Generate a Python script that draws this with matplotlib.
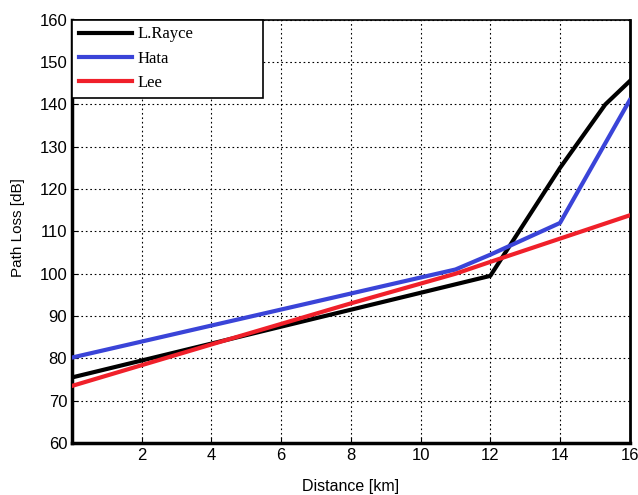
import matplotlib
matplotlib.use("Agg")
import matplotlib.pyplot as plt

x_rayce = [0, 4, 8, 11, 12, 14, 15.3, 16]
y_rayce = [75.5, 83.5, 91.5, 97.5, 99.5, 125, 140, 145.5]
x_hata = [0, 11, 12, 14, 16]
y_hata = [80.2, 101, 104.5, 112, 141]
x_lee = [0, 4, 8, 11, 12, 14, 16]
y_lee = [73.5, 83.3, 93, 100, 102.8, 108.3, 113.8]
xticks = [2, 4, 6, 8, 10, 12, 14, 16]
yticks = [60, 70, 80, 90, 100, 110, 120, 130, 140, 150, 160]

fig = plt.figure(figsize=(6.38, 4.95), dpi=100)
ax = fig.add_axes([0.113, 0.105, 0.874, 0.855])
ax.plot(x_rayce, y_rayce, color="black", lw=3, label="L.Rayce", zorder=3)
ax.plot(x_hata, y_hata, color="#3a44d8", lw=3, label="Hata", zorder=3)
ax.plot(x_lee, y_lee, color="#f0202a", lw=3, label="Lee", zorder=4)
ax.set_xlim(0, 16)
ax.set_ylim(60, 160)
ax.set_xticks(xticks)
ax.set_yticks(yticks)
ax.grid(True, color="black", linestyle=(0, (1.5, 2.5)), linewidth=0.8)
ax.tick_params(labelsize=12, direction="in", length=4)
for lab in ax.get_xticklabels() + ax.get_yticklabels():
    lab.set_family("Liberation Sans")
ax.spines["left"].set_linewidth(2.5)
ax.spines["bottom"].set_linewidth(2.5)
ax.spines["top"].set_linewidth(1.2)
ax.spines["right"].set_linewidth(2.0)
fig.text(0.028, 0.54, "Path Loss [dB]", family="Liberation Sans", fontsize=11,
         rotation=90, ha="center", va="center")
fig.text(0.55, 0.018, "Distance [km]", family="Liberation Sans", fontsize=11.5,
         ha="center", va="center")
leg = ax.legend(loc="upper left", bbox_to_anchor=(0, 1, 0.342, 0), mode="expand",
                prop={"family": "Liberation Serif", "size": 12},
                frameon=True, fancybox=False, edgecolor="black", handlelength=3.2,
                borderaxespad=0.0, borderpad=0.4, labelspacing=0.5, handletextpad=0.3)
leg.get_frame().set_linewidth(1.2)
leg.get_frame().set_alpha(1)
fig.savefig("out.png", dpi=100)
